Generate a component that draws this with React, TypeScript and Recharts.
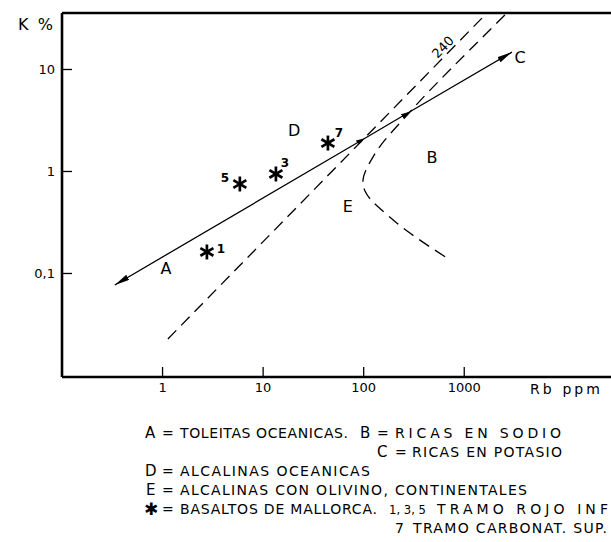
import { ComposedChart, Line, Scatter, XAxis, YAxis, ReferenceLine } from 'recharts';

// log-log axes: Rb (ppm) vs K (%)
const X_DOMAIN = [0.1, 28800];
const Y_DOMAIN = [0.00966, 35.8];
const xTicks = [1, 10, 100, 1000];
const yTicks = [0.1, 1, 10];
const yTickLabels: Record<string, string> = { '0.1': '0,1', '1': '1', '10': '10' };

// A -> C trend (ends + the two crossing arrowheads)
const trendAC = [
  { x: 0.335, y: 0.0771 },
  { x: 103, y: 2.12 },
  { x: 288, y: 3.85 },
  { x: 2980, y: 14.8 },
];

// straight dashed divider labelled 240
const line240 = [
  { x: 1.13, y: 0.0228 },
  { x: 1607, y: 34.2 },
];

// curved dashed divider between B and E
const boundaryBE = [
  { x: 2535, y: 34.2 },
  { x: 573, y: 7.89 },
  { x: 288, y: 3.83 },
  { x: 163, y: 2.04 },
  { x: 124, y: 1.39 },
  { x: 105, y: 1.03 },
  { x: 98.2, y: 0.807 },
  { x: 103, y: 0.644 },
  { x: 121, y: 0.514 },
  { x: 163, y: 0.392 },
  { x: 288, y: 0.249 },
  { x: 673, y: 0.142 },
];

// Mallorca basalts
const basalts = [
  { x: 2.76, y: 0.1625, label: '1' },
  { x: 5.87, y: 0.754, label: '5' },
  { x: 13.4, y: 0.945, label: '3' },
  { x: 44.1, y: 1.9, label: '7' },
];

// field letters
const fieldLabels = [
  { x: 1.08, y: 0.111, label: 'A' },
  { x: 477, y: 1.36, label: 'B' },
  { x: 3590, y: 12.97, label: 'C' },
  { x: 20.3, y: 2.55, label: 'D' },
  { x: 69.7, y: 0.449, label: 'E' },
];
const curveLabel = [{ x: 614, y: 16.6, label: '240' }];

const FONT = '"DejaVu Sans", sans-serif';
const numOffsets: Record<string, [number, number]> = {
  '1': [14, -3],
  '5': [-15, -6],
  '3': [9, -11],
  '7': [11, -10],
};

const Star = (props: any) => {
  const { cx, cy, payload } = props;
  const [dx, dy] = numOffsets[payload.label] || [10, -10];
  return (
    <g>
      <g stroke="#000" strokeWidth={2.7}>
        <line x1={cx} y1={cy - 7.5} x2={cx} y2={cy + 7.5} />
        <line x1={cx - 6.5} y1={cy - 3.8} x2={cx + 6.5} y2={cy + 3.8} />
        <line x1={cx - 6.5} y1={cy + 3.8} x2={cx + 6.5} y2={cy - 3.8} />
      </g>
      <text x={cx + dx} y={cy + dy} textAnchor="middle" dominantBaseline="central" fontSize={12} fontWeight={600} fontFamily={FONT} fill="#000">
        {payload.label}
      </text>
    </g>
  );
};

const Letter = (props: any) => (
  <text x={props.cx} y={props.cy} textAnchor="middle" dominantBaseline="central" fontSize={16} fontFamily={FONT} fill="#000">
    {props.payload.label}
  </text>
);

const Rotated = (props: any) => (
  <text
    x={props.cx}
    y={props.cy}
    textAnchor="middle"
    dominantBaseline="central"
    fontSize={13}
    fontFamily={FONT}
    fill="#000"
    transform={`rotate(-46 ${props.cx} ${props.cy})`}
  >
    {props.payload.label}
  </text>
);

const XTick = (props: any) => {
  const { x, y, payload } = props;
  return (
    <g>
      <line x1={x} y1={y} x2={x} y2={y - 10} stroke="#000" strokeWidth={1.3} />
      <text x={x} y={y + 15} textAnchor="middle" fontSize={13} fontFamily={FONT} fill="#000">
        {payload.value}
      </text>
    </g>
  );
};

const YTick = (props: any) => {
  const { x, y, payload } = props;
  return (
    <g>
      <line x1={x} y1={y} x2={x + 10} y2={y} stroke="#000" strokeWidth={1.3} />
      <text x={x - 7} y={y + 4.5} textAnchor="end" fontSize={13} fontFamily={FONT} fill="#000">
        {yTickLabels[String(payload.value)]}
      </text>
    </g>
  );
};

const T = (p: { x: number; y: number; w?: number; size?: number; squeeze?: boolean; children: string }) => (
  <text
    x={p.x}
    y={p.y}
    fontSize={p.size ?? 14}
    fontFamily={FONT}
    fill="#000"
    textLength={p.w}
    lengthAdjust={p.w ? (p.squeeze ? 'spacingAndGlyphs' : 'spacing') : undefined}
  >
    {p.children}
  </text>
);

export default function App() {
  return (
    <div style={{ position: 'absolute', left: 0, top: 0, width: 611, height: 542, background: '#fff' }}>
      <svg width={0} height={0} style={{ position: 'absolute' }}>
        <defs>
          <marker id="arrowBig" viewBox="0 0 15 6" refX={15} refY={3} markerWidth={15} markerHeight={6} markerUnits="userSpaceOnUse" orient="auto-start-reverse">
            <path d="M0,0 L15,3 L0,6 z" fill="#000" />
          </marker>
          <marker id="arrowSmall" viewBox="0 0 9 5" refX={9} refY={2.5} markerWidth={9} markerHeight={5} markerUnits="userSpaceOnUse" orient="auto">
            <path d="M0,0 L9,2.5 L0,5 z" fill="#000" />
          </marker>
        </defs>
      </svg>
      <ComposedChart width={611} height={542} margin={{ top: 13, right: 0, left: 0, bottom: 135 }}>
        <XAxis
          type="number"
          dataKey="x"
          scale="log"
          domain={X_DOMAIN}
          allowDataOverflow
          ticks={xTicks}
          interval={0}
          height={30}
          tickSize={0}
          tickMargin={0}
          tickLine={false}
          tick={<XTick />}
          axisLine={{ stroke: '#000', strokeWidth: 2.6 }}
        />
        <YAxis
          type="number"
          dataKey="y"
          scale="log"
          domain={Y_DOMAIN}
          allowDataOverflow
          ticks={yTicks}
          interval={0}
          width={62}
          tickSize={0}
          tickMargin={0}
          tickLine={false}
          tick={<YTick />}
          axisLine={{ stroke: '#000', strokeWidth: 2.6 }}
        />
        <ReferenceLine y={Y_DOMAIN[1]} stroke="#000" strokeWidth={2.6} ifOverflow="visible" />
        <Line
          data={line240}
          dataKey="y"
          type="linear"
          stroke="#000"
          strokeWidth={1.3}
          strokeDasharray="12 7"
          dot={false}
          activeDot={false}
          isAnimationActive={false}
        />
        <Line
          data={boundaryBE}
          dataKey="y"
          type="natural"
          stroke="#000"
          strokeWidth={1.3}
          strokeDasharray="12 7"
          dot={false}
          activeDot={false}
          isAnimationActive={false}
        />
        <Line
          data={trendAC}
          dataKey="y"
          type="linear"
          stroke="#000"
          strokeWidth={1.3}
          markerStart="url(#arrowBig)"
          markerEnd="url(#arrowBig)"
          markerMid="url(#arrowSmall)"
          dot={false}
          activeDot={false}
          isAnimationActive={false}
        />
        <Scatter data={basalts} shape={<Star />} isAnimationActive={false} />
        <Scatter data={fieldLabels} shape={<Letter />} isAnimationActive={false} />
        <Scatter data={curveLabel} shape={<Rotated />} isAnimationActive={false} />
      </ComposedChart>
      <svg width={611} height={542} style={{ position: 'absolute', left: 0, top: 0, pointerEvents: 'none' }}>
        <T x={18} y={30} size={16} w={35}>K %</T>
        <T x={530} y={394} size={14} w={70}>Rb  ppm</T>

        <T x={145} y={438} size={15}>A</T>
        <T x={162} y={438}>=</T>
        <T x={180} y={438} w={168}>TOLEITAS OCEANICAS.</T>
        <T x={360} y={438} size={15}>B</T>
        <T x={377} y={438}>=</T>
        <T x={395} y={438} w={166}>RICAS EN SODIO</T>

        <T x={377} y={457} size={15}>C</T>
        <T x={395} y={457}>=</T>
        <T x={412} y={457} w={150}>RICAS EN POTASIO</T>

        <T x={145} y={476} size={15}>D</T>
        <T x={162} y={476}>=</T>
        <T x={180} y={476} w={190}>ALCALINAS OCEANICAS</T>

        <T x={146} y={495} size={15}>E</T>
        <T x={162} y={495}>=</T>
        <T x={180} y={495} w={347}>ALCALINAS CON OLIVINO, CONTINENTALES</T>

        <T x={144} y={515} size={17}>✱</T>
        <T x={162} y={514}>=</T>
        <T x={180} y={514} w={197}>BASALTOS DE MALLORCA.</T>
        <T x={389} y={514} size={12.5} w={37} squeeze>1, 3, 5</T>
        <T x={437} y={514} w={171}>TRAMO ROJO INF</T>

        <T x={395} y={533}>7</T>
        <T x={413} y={533} w={194}>TRAMO CARBONAT. SUP.</T>
      </svg>
    </div>
  );
}
